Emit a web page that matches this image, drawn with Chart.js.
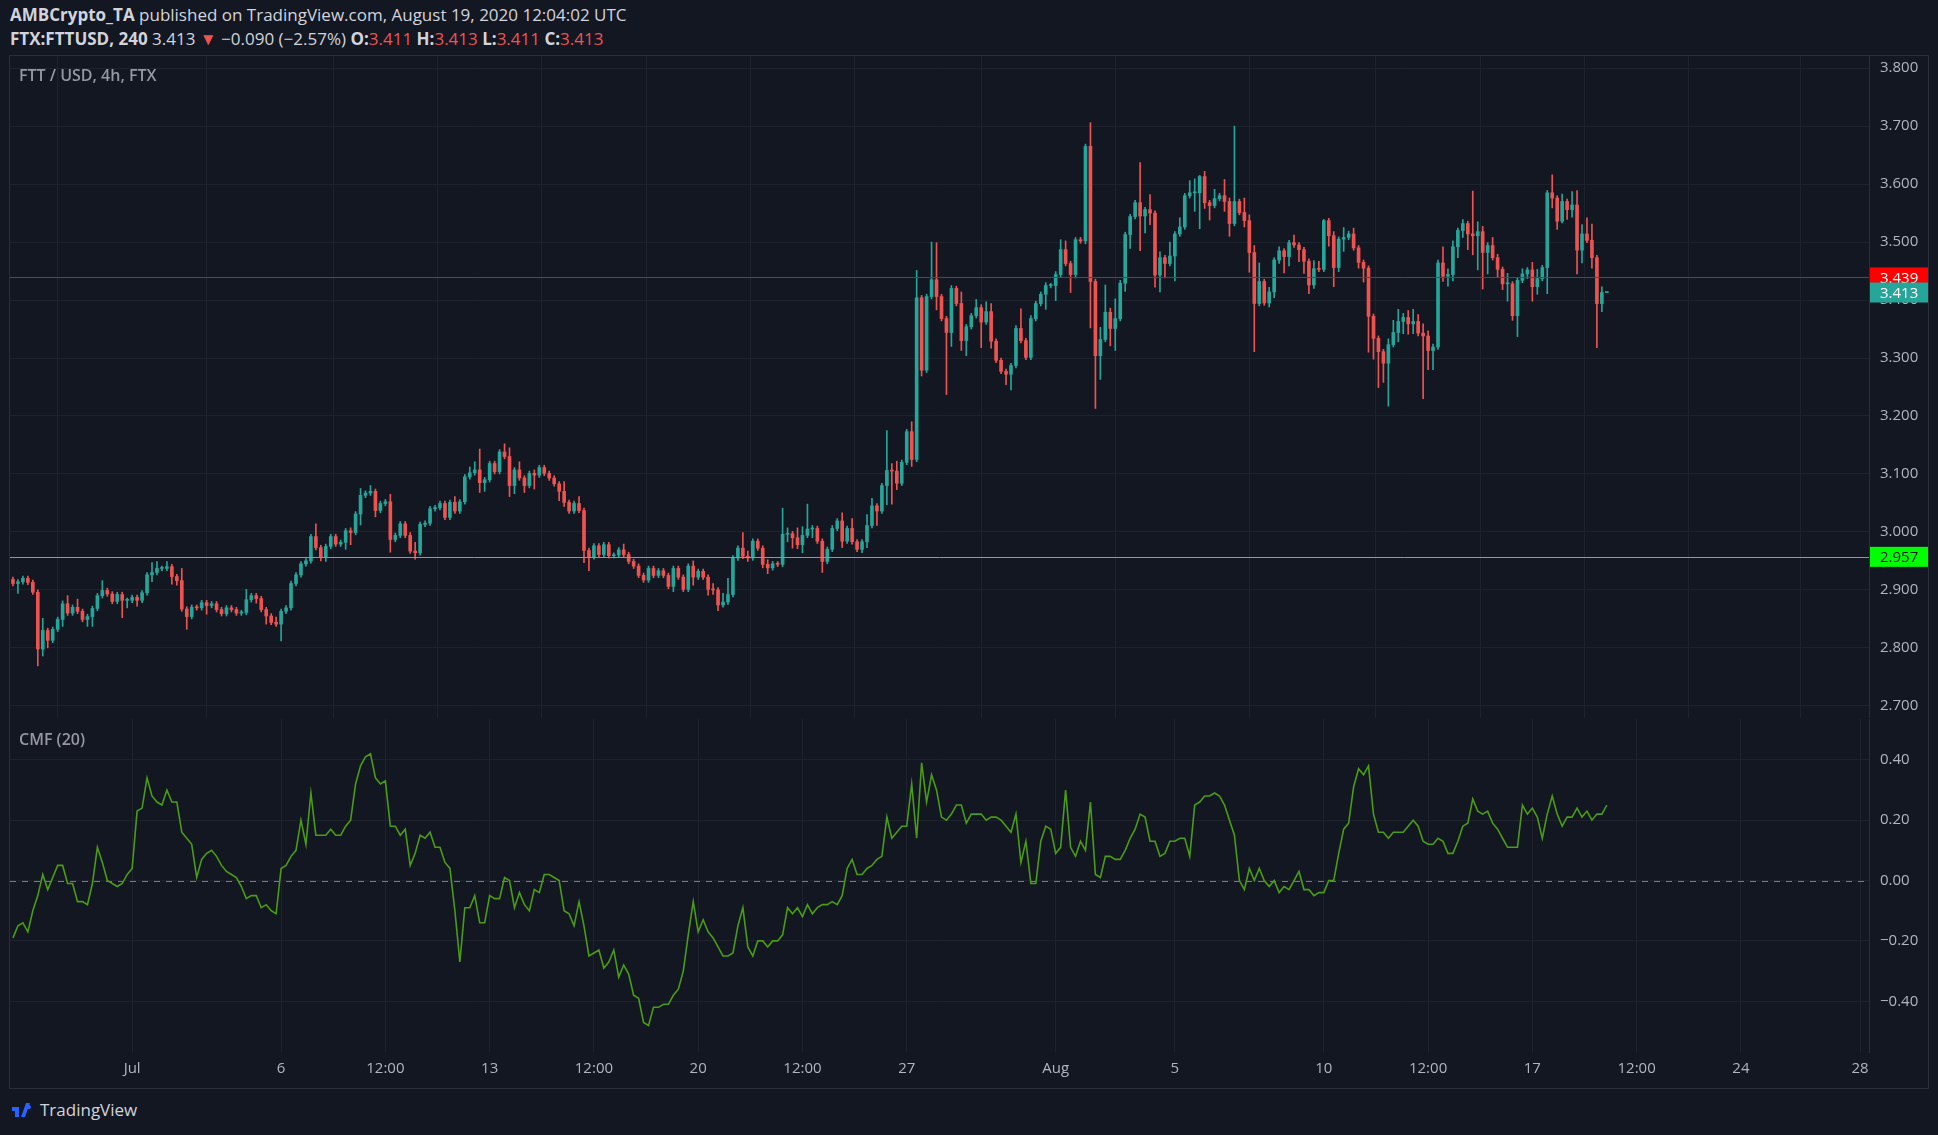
<!DOCTYPE html>
<html>
<head>
<meta charset="utf-8">
<script src="https://cdn.jsdelivr.net/npm/chart.js@4.4.1/dist/chart.umd.min.js"></script>
<style>
    html, body { margin: 0; padding: 0; background: #131722; width: 1938px; height: 1135px; overflow: hidden; font-family: "Open Sans", sans-serif; color: #d1d4dc; }
    .hdr { position: absolute; left: 10px; font-size: 17px; white-space: nowrap; }
    .hdr b { font-weight: 700; }
    .red { color: #ef5350; }
    .frame { position: absolute; border: 1px solid #2a2e39; box-sizing: border-box; }
    .pane { position: absolute; }
    .plabel { position: absolute; left: 19px; font-size: 16px; font-weight: 600; color: #9598a1; }
    .logo { position: absolute; left: 12px; top: 1098px; font-size: 17px; color: #d1d4dc; display: flex; align-items: center; gap: 6px; }
</style>
</head>
<body>
<div class="hdr" style="top:3px"><b>AMBCrypto_TA</b> published on TradingView.com, August 19, 2020 12:04:02 UTC</div>
<div class="hdr" style="top:27px"><b>FTX:FTTUSD, 240</b> 3.413 <span class="red">▼</span> −0.090 (−2.57%) <b>O:</b><span class="red">3.411</span> <b>H:</b><span class="red">3.413</span> <b>L:</b><span class="red">3.411</span> <b>C:</b><span class="red">3.413</span></div>
<div class="frame" style="left:9px;top:55px;width:1920px;height:1034px"></div>
<div class="pane" style="left:10px;top:56px;width:1918px;height:662px"><canvas id="priceChart"></canvas></div>
<div class="pane" style="left:10px;top:719px;width:1918px;height:369px"><canvas id="cmfChart"></canvas></div>
<div class="plabel" style="top:64px">FTT / USD, 4h, FTX</div>
<div class="plabel" style="top:728px">CMF (20)</div>
<div class="logo"><svg width="22" height="14" viewBox="0 0 22 14"><path d="M0 4h7v10H3V8H0z M9 14l5-14h4l-5 14z M15 4a2 2 0 1 1 0 .1z" fill="#2962ff"/></svg>TradingView</div>
<script>
"use strict";

// 4h candles from Jun 27 00:00 UTC (x in days since then)
const firstOpen = 2.918;
const closes = [
    2.911,2.914,2.920,2.913,2.896,2.798,2.830,2.813,2.832,2.849,
    2.876,2.860,2.870,2.863,2.849,2.854,2.868,2.890,2.899,2.893,
    2.880,2.892,2.882,2.882,2.887,2.882,2.895,2.926,2.930,2.937,
    2.937,2.940,2.923,2.916,2.867,2.854,2.870,2.869,2.878,2.873,
    2.876,2.866,2.859,2.869,2.866,2.860,2.861,2.883,2.890,2.885,
    2.866,2.855,2.844,2.841,2.863,2.869,2.911,2.926,2.945,2.950,
    2.992,2.973,2.956,2.975,2.992,2.979,2.982,3.002,2.999,3.031,
    3.063,3.067,3.070,3.037,3.049,3.052,2.987,2.994,3.014,2.994,
    2.967,2.964,3.013,3.015,3.040,3.042,3.049,3.025,3.051,3.036,
    3.052,3.095,3.102,3.107,3.085,3.090,3.118,3.104,3.138,3.130,
    3.080,3.107,3.093,3.080,3.101,3.098,3.111,3.101,3.093,3.083,
    3.070,3.051,3.036,3.049,3.037,2.968,2.957,2.976,2.961,2.978,
    2.959,2.960,2.969,2.961,2.949,2.941,2.925,2.917,2.937,2.925,
    2.933,2.925,2.906,2.937,2.922,2.901,2.941,2.922,2.932,2.922,
    2.901,2.900,2.874,2.879,2.892,2.955,2.972,2.958,2.955,2.984,
    2.972,2.944,2.938,2.945,2.944,2.996,2.997,2.990,2.978,2.994,
    3.005,3.006,2.984,2.949,2.970,3.006,3.019,2.984,3.006,2.983,
    2.970,2.983,3.011,3.045,3.036,3.080,3.106,3.105,3.084,3.120,
    3.173,3.125,3.404,3.279,3.406,3.435,3.406,3.368,3.344,3.420,
    3.394,3.330,3.354,3.373,3.387,3.362,3.380,3.329,3.296,3.277,
    3.272,3.287,3.351,3.330,3.301,3.368,3.394,3.410,3.425,3.425,
    3.444,3.487,3.463,3.444,3.504,3.502,3.665,3.432,3.304,3.332,
    3.379,3.351,3.368,3.429,3.513,3.544,3.568,3.545,3.556,3.550,
    3.443,3.473,3.463,3.476,3.514,3.526,3.580,3.585,3.585,3.613,
    3.568,3.563,3.575,3.580,3.570,3.532,3.570,3.551,3.537,3.482,
    3.394,3.432,3.395,3.414,3.469,3.485,3.475,3.499,3.495,3.487,
    3.467,3.426,3.454,3.453,3.537,3.511,3.456,3.505,3.508,3.514,
    3.490,3.465,3.455,3.372,3.334,3.311,3.291,3.323,3.344,3.363,
    3.370,3.359,3.363,3.343,3.338,3.313,3.319,3.464,3.441,3.444,
    3.492,3.520,3.532,3.514,3.511,3.518,3.482,3.494,3.473,3.453,
    3.428,3.428,3.373,3.434,3.445,3.452,3.423,3.437,3.456,3.585,
    3.576,3.536,3.570,3.556,3.564,3.486,3.514,3.503,3.473,3.394,
    3.413,3.413
];

// wick lengths beyond the body, in thousandths; candles not listed have a short wick
const wickDefault = 4;
const wickUp = {6:21,10:5,11:14,13:14,18:17,28:17,29:12,31:9,34:21,47:18,53:9,61:22,68:5,70:12,72:10,76:13,80:5,81:15,89:10,92:10,93:14,94:36,
    99:14,100:15,102:14,105:6,111:17,114:12,123:10,137:9,141:10,143:15,144:28,147:27,148:9,152:8,155:45,156:10,158:17,159:15,160:43,161:5,165:5,
    167:14,169:17,172:19,173:13,176:69,177:12,178:17,181:17,182:47,185:65,186:64,189:5,191:20,194:14,195:5,196:17,197:14,202:5,203:34,205:5,208:5,
    210:5,211:17,212:15,217:41,219:21,220:47,221:7,222:34,223:5,227:69,229:26,231:10,233:24,235:16,237:21,238:24,239:2,240:9,242:16,244:28,245:6,
    246:130,248:25,249:10,250:12,251:32,253:8,255:7,258:13,262:14,263:13,264:2,266:7,268:17,269:5,270:10,277:10,278:21,279:21,280:7,281:12,282:21,
    283:12,284:16,285:9,286:5,287:5,288:28,289:10,290:10,292:7,294:74,295:17,296:9,297:5,298:14,299:6,301:18,304:9,305:4,306:13,307:16,308:4,310:31,
    312:13,314:23,315:25,316:16,317:28,318:28,319:4,320:10,321:0};
const wickDn = {1:17,5:29,6:12,7:13,10:12,15:12,16:17,22:30,23:13,25:10,28:12,32:13,33:8,35:22,39:15,49:8,51:14,54:29,62:6,63:7,67:12,68:21,70:19,
    73:11,76:22,81:11,94:17,95:15,100:19,101:14,103:12,105:24,110:16,111:7,115:21,116:24,133:9,137:14,140:10,141:8,142:10,148:6,151:6,152:10,156:13,
    157:18,158:7,159:14,161:15,163:19,167:11,171:6,172:10,174:25,176:33,177:57,178:11,181:12,183:10,186:23,188:107,189:24,191:17,192:26,195:44,197:12,
    200:18,201:27,208:26,210:26,213:31,214:6,216:5,217:80,218:91,219:41,221:30,222:38,224:14,225:24,227:60,228:29,229:20,230:21,231:29,232:25,234:43,
    238:32,239:62,240:10,241:25,244:17,245:22,248:11,249:34,250:83,251:4,253:7,254:10,255:6,256:28,257:16,259:21,260:21,261:15,262:6,265:18,266:33,
    267:7,268:21,271:10,272:24,273:62,274:36,275:62,276:33,277:74,279:16,280:21,281:18,282:17,283:5,284:108,285:33,286:33,288:9,289:17,290:11,291:19,
    292:12,293:27,294:33,295:59,296:63,297:37,299:14,300:10,301:30,302:8,303:36,305:8,306:25,307:13,309:45,310:17,311:14,312:3,313:17,314:13,315:41,
    316:22,318:18,319:76,320:14,321:0};

const cmf = [
    -0.19,-0.15,-0.14,-0.17,-0.10,-0.05,0.02,-0.03,0.01,0.05,
    0.05,-0.01,-0.01,-0.07,-0.07,-0.08,-0.01,0.11,0.06,0.00,
    -0.01,-0.02,-0.01,0.02,0.04,0.23,0.24,0.34,0.28,0.26,
    0.25,0.30,0.26,0.26,0.16,0.14,0.12,0.01,0.07,0.09,
    0.10,0.08,0.05,0.03,0.02,0.01,-0.02,-0.06,-0.05,-0.05,
    -0.09,-0.08,-0.10,-0.11,0.04,0.05,0.08,0.10,0.20,0.12,
    0.29,0.15,0.15,0.15,0.17,0.15,0.15,0.18,0.20,0.32,
    0.38,0.41,0.42,0.34,0.32,0.33,0.18,0.18,0.15,0.17,
    0.05,0.09,0.15,0.14,0.16,0.11,0.11,0.06,0.04,-0.10,
    -0.27,-0.09,-0.09,-0.05,-0.14,-0.14,-0.05,-0.06,-0.06,0.01,
    0.00,-0.09,-0.04,-0.08,-0.10,-0.03,-0.04,0.02,0.02,0.01,
    0.00,-0.10,-0.11,-0.15,-0.07,-0.15,-0.25,-0.24,-0.23,-0.29,
    -0.27,-0.23,-0.32,-0.28,-0.31,-0.38,-0.39,-0.47,-0.48,-0.42,
    -0.42,-0.41,-0.41,-0.38,-0.36,-0.30,-0.18,-0.07,-0.17,-0.13,
    -0.17,-0.19,-0.22,-0.25,-0.25,-0.24,-0.15,-0.09,-0.22,-0.25,
    -0.20,-0.20,-0.22,-0.20,-0.20,-0.18,-0.09,-0.11,-0.09,-0.12,
    -0.08,-0.11,-0.09,-0.08,-0.08,-0.07,-0.08,-0.05,0.04,0.07,
    0.02,0.02,0.04,0.05,0.07,0.08,0.21,0.14,0.16,0.18,
    0.18,0.32,0.14,0.39,0.26,0.35,0.30,0.21,0.20,0.22,
    0.25,0.25,0.19,0.22,0.22,0.22,0.20,0.21,0.21,0.20,
    0.18,0.16,0.22,0.06,0.13,-0.01,-0.01,0.13,0.18,0.17,
    0.09,0.11,0.30,0.11,0.08,0.13,0.10,0.26,0.02,0.01,
    0.08,0.08,0.07,0.07,0.10,0.14,0.17,0.22,0.21,0.13,
    0.13,0.08,0.09,0.13,0.13,0.14,0.14,0.08,0.25,0.26,
    0.28,0.28,0.29,0.28,0.25,0.20,0.15,0.00,-0.03,0.04,
    0.00,0.04,0.00,-0.02,0.00,-0.04,-0.02,-0.03,0.00,0.03,
    -0.03,-0.03,-0.05,-0.04,-0.04,0.00,0.00,0.09,0.17,0.19,
    0.31,0.37,0.35,0.38,0.22,0.16,0.16,0.14,0.16,0.16,
    0.16,0.18,0.20,0.18,0.13,0.12,0.12,0.14,0.13,0.09,
    0.09,0.13,0.18,0.19,0.27,0.23,0.22,0.23,0.19,0.17,
    0.14,0.11,0.11,0.11,0.25,0.22,0.24,0.21,0.14,0.22,
    0.28,0.22,0.18,0.21,0.21,0.24,0.21,0.23,0.20,0.22,
    0.22,0.25
];

const tickDays = [4, 9, 12.5, 16, 19.5, 23, 26.5, 30, 35, 39, 44, 47.5, 51, 54.5, 58, 62];
const tickLabels = ["Jul", "6", "12:00", "13", "12:00", "20", "12:00", "27", "Aug", "5", "10", "12:00", "17", "12:00", "24", "28"];
const priceTicks = [2.7, 2.8, 2.9, 3.0, 3.1, 3.2, 3.3, 3.4, 3.5, 3.6, 3.7, 3.8];
const cmfTicks = [-0.4, -0.2, 0, 0.2, 0.4];
const resistance = 3.439;
const support = 2.957;
const lastPrice = 3.413;

const UP = "#26a69a", DOWN = "#ef5350", GRID = "#1e222d", TEXT = "#b2b5be";
const X_MIN = -0.1, X_MAX = 62.3, AXIS_W = 59;

const bodies = [], wicks = [], colors = [];
closes.forEach((c, i) => {
    const o = i ? closes[i - 1] : firstOpen;
    const up = (wickUp[i] ?? wickDefault) / 1000, dn = (wickDn[i] ?? wickDefault) / 1000;
    bodies.push({ x: i / 6, y: [o, c] });
    wicks.push({ x: i / 6, y: [Math.min(o, c) - dn, Math.max(o, c) + up] });
    colors.push(c >= o ? UP : DOWN);
});

function xAxis(showLabels) {
    return {
        type: "linear", min: X_MIN, max: X_MAX, offset: false,
        afterBuildTicks: s => { s.ticks = tickDays.map(v => ({ value: v })); },
        afterFit: s => { s.height = showLabels ? 36 : 0; s.paddingLeft = 0; s.paddingRight = 0; },
        grid: { color: GRID, drawTicks: false },
        border: { display: false },
        ticks: { display: showLabels, color: TEXT, font: { size: 15, family: "Open Sans" }, padding: 8, maxRotation: 0, autoSkip: false,
            callback: (v, idx) => tickLabels[idx] }
    };
}

function yAxis(min, max, ticks, fmt) {
    return {
        position: "right", min, max,
        afterBuildTicks: s => { s.ticks = ticks.map(v => ({ value: v })); },
        afterFit: s => { s.width = AXIS_W; s.paddingTop = 0; s.paddingBottom = 0; },
        grid: { color: GRID, drawTicks: false },
        border: { color: "#2a2e39" },
        ticks: { color: TEXT, font: { size: 15, family: "Open Sans" }, padding: 11, callback: fmt }
    };
}

const priceLines = {
    id: "priceLines",
    afterDatasetsDraw(chart) {
        const { ctx, chartArea: a, scales: { y } } = chart;
        ctx.save();
        [[resistance, "#ff0000"], [support, "#00ff00"]].forEach(([v, col]) => {
            const py = Math.round(y.getPixelForValue(v)) + 0.5;
            ctx.strokeStyle = col; ctx.lineWidth = 1;
            ctx.beginPath(); ctx.moveTo(a.left, py); ctx.lineTo(a.right, py); ctx.stroke();
        });
        ctx.font = "15px 'Open Sans'"; ctx.textBaseline = "middle";
        [[resistance, "#ff0000", "#ffffff"], [lastPrice, UP, "#ffffff"], [support, "#00ff00", "#131722"]].forEach(([v, bg, fg]) => {
            const py = y.getPixelForValue(v);
            ctx.fillStyle = bg; ctx.fillRect(a.right + 1, py - 10, AXIS_W - 1, 20);
            ctx.fillStyle = fg; ctx.fillText(v.toFixed(3), a.right + 11, py + 1);
        });
        ctx.restore();
    }
};

const zeroLine = {
    id: "zeroLine",
    beforeDatasetsDraw(chart) {
        const { ctx, chartArea: a, scales: { y } } = chart;
        const py = Math.round(y.getPixelForValue(0)) + 0.5;
        ctx.save();
        ctx.strokeStyle = "#787b86"; ctx.setLineDash([6, 6]); ctx.lineWidth = 1;
        ctx.beginPath(); ctx.moveTo(a.left, py); ctx.lineTo(a.right, py); ctx.stroke();
        ctx.restore();
    }
};

const common = { responsive: true, maintainAspectRatio: false, animation: false, layout: { padding: 0 },
    plugins: { legend: { display: false }, tooltip: { enabled: false } } };

new Chart(document.getElementById("priceChart"), {
    type: "bar",
    data: { datasets: [
        { data: wicks, backgroundColor: colors, barThickness: 1, grouped: false },
        { data: bodies, backgroundColor: colors, barThickness: 3, minBarLength: 1, grouped: false }
    ] },
    options: { ...common, scales: {
        x: xAxis(false),
        y: yAxis(2.679, 3.821, priceTicks, v => v.toFixed(3))
    } },
    plugins: [priceLines]
});

new Chart(document.getElementById("cmfChart"), {
    type: "line",
    data: { datasets: [{ data: cmf.map((v, i) => ({ x: i / 6, y: v })), borderColor: "#4a9c16", borderWidth: 1.6, pointRadius: 0, tension: 0 }] },
    options: { ...common, scales: {
        x: xAxis(true),
        y: yAxis(-0.568, 0.535, cmfTicks, v => (v < 0 ? "−" : "") + Math.abs(v).toFixed(2))
    } },
    plugins: [zeroLine]
});
</script>
</body>
</html>
